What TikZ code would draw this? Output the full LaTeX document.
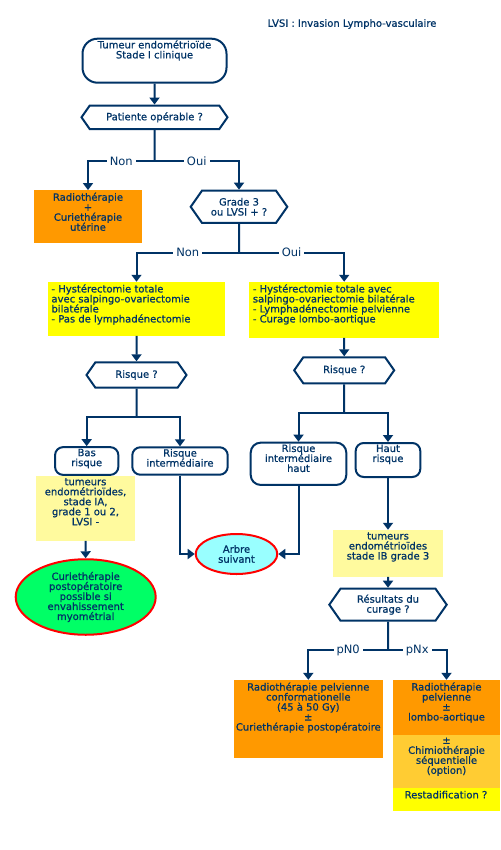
\documentclass[tikz,border=0pt]{standalone}
\usepackage{fontspec}
\setmainfont{DejaVu Sans}
\newfontfamily\boxfamily{DejaVu Sans}[FakeBold=0.8]
\usetikzlibrary{arrows.meta,shapes.geometric,shapes.symbols}
\definecolor{navy}{HTML}{003366}
\definecolor{orangebox}{HTML}{FF9900}
\definecolor{orangelight}{HTML}{FFCC33}
\definecolor{yellowbox}{HTML}{FFFF00}
\definecolor{yellowlight}{HTML}{FFFA9E}
\definecolor{greenoval}{HTML}{00FF66}
\definecolor{cyanoval}{HTML}{99FFFF}
\newcommand{\boxfont}{\boxfamily\fontsize{10}{10}\selectfont}
\newcommand{\condfont}{\fontsize{11.5}{12}\selectfont}
\setlength{\lineskiplimit}{-5pt}
\tikzset{
    block/.style = {draw=navy, rectangle, line width=2pt, rounded corners=8pt},
    fillbox/.style = {rectangle, fill=#1},
    decision/.style = {draw=navy, signal, signal to=west and east,
        signal pointer angle=110, line width=2pt, inner sep=1pt,
        text=navy, font=\boxfont, align=center},
    oval/.style = {draw=red, ellipse, line width=2pt, inner sep=0pt,
        text=navy, font=\boxfont, align=center},
    every label/.style = {text=navy, font=\boxfont, inner sep=2.5pt},
    txt/.style = {label={[anchor=north, align=center]north:{#1}}},
    txtl/.style = {label={[anchor=north west, align=left, inner xsep=3.5pt]north west:{#1}}},
    line/.style = {draw=navy, line width=2pt},
    arrow/.style = {draw=navy, line width=2pt, ->},
    cond/.style = {fill=white, text=navy, font=\condfont, inner xsep=3pt, inner ysep=1pt}
}

\begin{document}
\begin{tikzpicture}[x=1pt, y=-1pt, >={Triangle[width=10pt,length=7pt]}]
    \useasboundingbox (0,0) rectangle (500,850);
    \node [text=navy, font=\boxfont] (lvsi) at (352,24) {LVSI : Invasion Lympho-vasculaire};
    % top of the tree
    \node [block, rounded corners=15pt, minimum width=144pt, minimum height=44pt,
        txt={Tumeur endométrioïde\\Stade I clinique}] (tum) at (154.5,60.7) {};
    \node [decision, minimum width=146pt, minimum height=23.5pt] (pat) at (154.5,117.3) {Patiente opérable ?};
    \coordinate (j1) at (154.5,161);
    \node [fillbox=orangebox, minimum width=108pt, minimum height=52.5pt,
        txt={Radiothérapie\\+\\Curiethérapie\\utérine}] (radio) at (88,216.5) {};
    \node [decision, minimum width=96.6pt, minimum height=32.3pt] (grade) at (239,206.8) {Grade 3\\ou LVSI + ?};
    \coordinate (j2) at (239,252.7);
    \node [fillbox=yellowbox, minimum width=177pt, minimum height=53.7pt,
        txtl={- Hystérectomie totale\\avec salpingo-ovariectomie\\bilatérale\\- Pas de lymphadénectomie}] (chirg) at (136.5,308.8) {};
    \node [fillbox=yellowbox, minimum width=189.7pt, minimum height=55.7pt,
        txtl={- Hystérectomie totale avec\\salpingo-ovariectomie bilatérale\\- Lymphadénectomie pelvienne\\- Curage lombo-aortique}] (chird) at (344.2,309.8) {};
    \node [decision, minimum width=100pt, minimum height=25.4pt] (risqg) at (136.5,375) {Risque ?};
    \node [decision, minimum width=100pt, minimum height=26pt] (risqd) at (344.2,370.3) {Risque ?};
    \coordinate (j3) at (136.5,417.3);
    \coordinate (j4) at (344.2,412.7);
    % left branch
    \node [fillbox=yellowlight, minimum width=99pt, minimum height=65pt,
        txt={tumeurs\\endométrioïdes,\\stade IA,\\grade 1 ou 2,\\LVSI -}] (tumg) at (85.5,508.2) {};
    \node [block, minimum width=63.3pt, minimum height=27.7pt, txt={Bas\\risque}] (bas) at (86.7,461) {};
    \node [block, minimum width=95.4pt, minimum height=27.4pt, txt={Risque\\intermédiaire}] (inter) at (180,461) {};
    \node [oval, fill=greenoval, minimum width=140pt, minimum height=75.5pt] (curie) at (85.7,597)
        {Curiethérapie\\postopératoire\\possible si\\envahissement\\myométrial};
    \node [oval, fill=cyanoval, minimum width=81.6pt, minimum height=40pt] (arbre) at (236.5,554) {Arbre\\suivant};
    % right branch
    \node [block, rounded corners=10pt, minimum width=95.6pt, minimum height=42.3pt,
        txt={Risque\\intermédiaire\\haut}] (interh) at (298.5,463.8) {};
    \node [block, minimum width=64.6pt, minimum height=34pt, txt={Haut\\risque}] (haut) at (388,460) {};
    \node [fillbox=yellowlight, minimum width=110.4pt, minimum height=46.7pt,
        txt={tumeurs\\endométrioïdes\\stade IB grade 3}] (tumd) at (388,553.3) {};
    \node [decision, minimum width=117.4pt, minimum height=32pt] (res) at (388,604.7) {Résultats du\\curage ?};
    \coordinate (j5) at (388,650);
    \node [fillbox=orangebox, minimum width=148.7pt, minimum height=78.3pt,
        txt={Radiothérapie pelvienne\\conformationelle\\(45 à 50 Gy)\\±\\Curiethérapie postopératoire}] (rpn0) at (308.3,719.2) {};
    \node [fillbox=orangebox, minimum width=107pt, minimum height=55pt,
        txt={Radiothérapie\\pelvienne\\±\\lombo-aortique}] (rpnx) at (446.5,707.5) {};
    \node [fillbox=orangelight, minimum width=107pt, minimum height=53.3pt,
        txt={±\\Chimiothérapie\\séquentielle\\(option)}] (chimio) at (446.5,761.7) {};
    \node [fillbox=yellowbox, minimum width=107pt, minimum height=22.4pt,
        txt={Restadification ?}] (resta) at (446,799.5) {};
    % connectors
    \draw [arrow] (tum) -- (pat);
    \draw [line] (pat) -- (j1);
    \draw [arrow] (j1) -| node [cond, pos=0.25] {Non} (radio);
    \draw [arrow] (j1) -| node [cond, pos=0.25] {Oui} (grade);
    \draw [line] (grade) -- (j2);
    \draw [arrow] (j2) -| node [cond, pos=0.25] {Non} (chirg);
    \draw [arrow] (j2) -| node [cond, pos=0.25] {Oui} (chird);
    \draw [arrow] (chirg) -- (risqg);
    \draw [arrow] (chird) -- (risqd);
    \draw [line] (risqg) -- (j3);
    \draw [arrow] (j3) -| (bas);
    \draw [arrow] (j3) -| (inter);
    \draw [line] (risqd) -- (j4);
    \draw [arrow] (j4) -| (interh);
    \draw [arrow] (j4) -| (haut);
    \draw [arrow] (tumg) -- (curie);
    \draw [arrow] (inter) |- (arbre);
    \draw [arrow] (interh) |- (arbre);
    \draw [arrow] (haut) -- (tumd);
    \draw [arrow] (tumd) -- (res);
    \draw [line] (res) -- (j5);
    \draw [arrow] (j5) -| node [cond, pos=0.25] {pN0} (rpn0);
    \draw [arrow] (j5) -| node [cond, pos=0.25] {pNx} (rpnx);
\end{tikzpicture}
\end{document}
